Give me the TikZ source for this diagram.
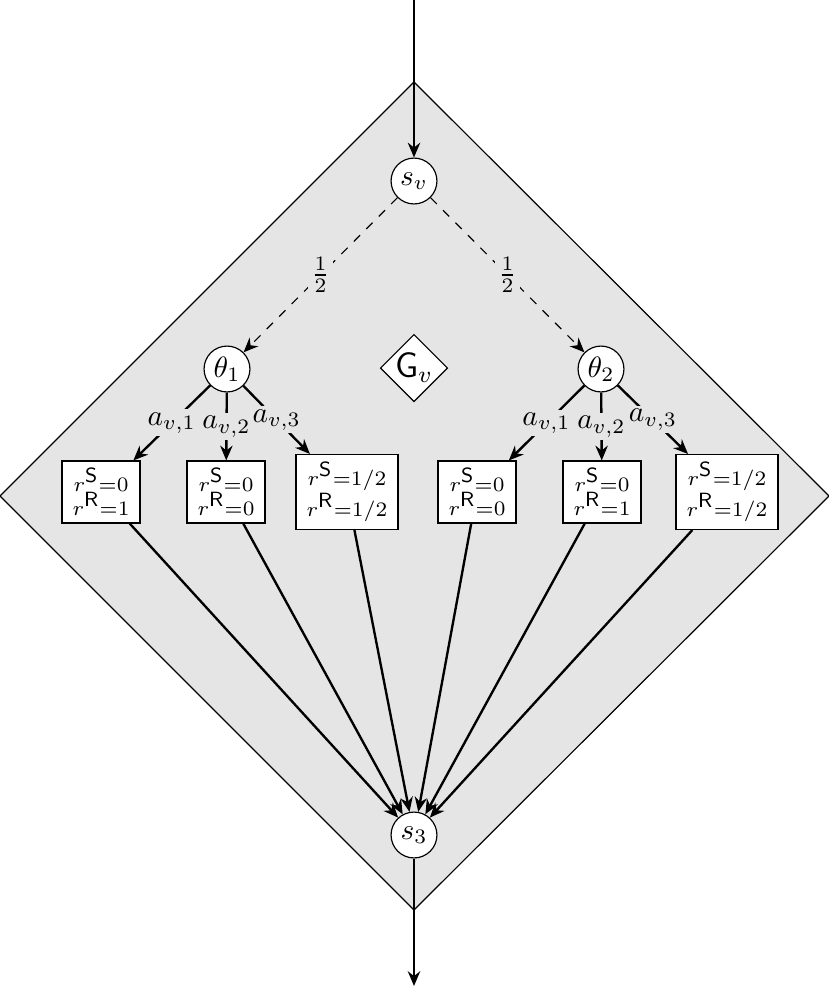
\documentclass[tikz,border=0pt]{standalone}
\usetikzlibrary{arrows.meta,shapes.geometric}
\newcommand{\rew}[2]{$r^{\textstyle\mathsf{#1}}{=}#2$}
\begin{document}
\begin{tikzpicture}[x=0.34pt,y=-0.34pt,
 state/.style={circle,draw,fill=white,minimum size=15.6pt,inner sep=0pt},
 outcome/.style={rectangle,draw,fill=white,align=center,font=\scriptsize,inner xsep=3.6pt,inner ysep=2.6pt,minimum height=21pt},
 arr/.style={thick,-{Stealth[length=5pt,width=4.2pt]}},
 darr/.style={dashed,-{Stealth[length=5pt,width=4.2pt]}},
 lab/.style={fill=black!10,inner sep=1pt}]
\useasboundingbox (0,0) rectangle (829,992);
\draw[fill=black!10] (414,82) -- (829,496) -- (414,910) -- (0,496) -- cycle;
\node[state] (sv) at (414,181) {$s_v$};
\node[state] (th1) at (227,369) {$\theta_1$};
\node[state] (th2) at (601,369) {$\theta_2$};
\node[diamond,draw,fill=white,aspect=1,inner sep=0pt,minimum size=20pt,font=\large] (gv) at (414,368) {$\mathsf{G}_v$};
\node[state] (s3) at (414,835) {$s_3$};
\node[outcome] (b1) at (101,492) {\rew{S}{0}\\\rew{R}{1}};
\node[outcome] (b2) at (226,492) {\rew{S}{0}\\\rew{R}{0}};
\node[outcome] (b3) at (347,492) {\rew{S}{1/2}\\\rew{R}{1/2}};
\node[outcome] (b4) at (477,492) {\rew{S}{0}\\\rew{R}{0}};
\node[outcome] (b5) at (602,492) {\rew{S}{0}\\\rew{R}{1}};
\node[outcome] (b6) at (727,492) {\rew{S}{1/2}\\\rew{R}{1/2}};
\coordinate (top) at (414,0);
\coordinate (bot) at (414,986);
\draw[arr] (top) -- (sv);
\draw[darr] (sv) -- node[lab]{$\frac{1}{2}$} (th1);
\draw[darr] (sv) -- node[lab]{$\frac{1}{2}$} (th2);
\draw[arr] (th1) -- node[lab]{$a_{v,1}$} (b1);
\draw[arr] (th1) -- node[lab]{$a_{v,2}$} (b2);
\draw[arr] (th1) -- node[lab]{$a_{v,3}$} (b3);
\draw[arr] (th2) -- node[lab]{$a_{v,1}$} (b4);
\draw[arr] (th2) -- node[lab]{$a_{v,2}$} (b5);
\draw[arr] (th2) -- node[lab]{$a_{v,3}$} (b6);
\foreach \b in {b1,b2,b3,b4,b5,b6} \draw[arr] (\b) -- (s3);
\draw[arr] (s3) -- (bot);
\end{tikzpicture}
\end{document}
